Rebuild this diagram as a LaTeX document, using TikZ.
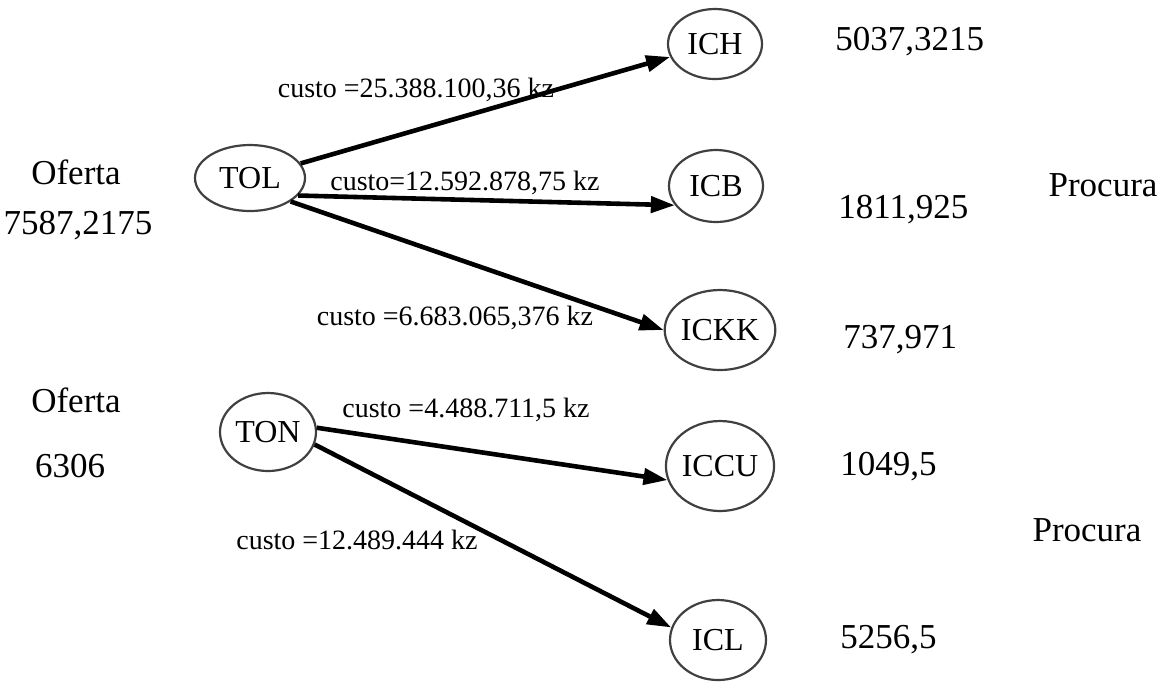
\documentclass[tikz,border=0pt]{standalone}
\usepackage{fontspec}
\setmainfont{Liberation Serif}
\usetikzlibrary{arrows.meta,shapes.geometric}

\tikzset{
  place/.style={ellipse, draw=black!75, line width=1.1pt, inner sep=0pt,
    font=\fontsize{16}{19}\selectfont},
  flow/.style={-{Triangle[length=12pt,width=8pt]}, line width=2.3pt},
  cost/.style={font=\fontsize{14}{16}\selectfont, inner sep=0pt},
  qty/.style={font=\fontsize{17.5}{20}\selectfont, inner sep=0pt},
}

\begin{document}
\begin{tikzpicture}[x=0.5pt,y=-0.5pt]
  \useasboundingbox (0,0) rectangle (1166,693);

  % origens
  \node[place, minimum width=55pt, minimum height=33pt] (tol) at (250,178) {TOL};
  \node[place, minimum width=48pt, minimum height=39pt] (ton) at (268,432) {TON};

  % destinos
  \node[place, minimum width=47pt, minimum height=35pt] (ich) at (715,44) {ICH};
  \node[place, minimum width=47pt, minimum height=36pt] (icb) at (716,186) {ICB};
  \node[place, minimum width=48pt, minimum height=40pt] (ickk) at (720,330) {ICKK};
  \node[place, minimum width=50pt, minimum height=45pt] (iccu) at (720,466) {ICCU};
  \node[place, minimum width=48pt, minimum height=40pt] (icl) at (718,640) {ICL};

  % oferta
  \node[qty] (of1) at (76,172) {Oferta};
  \node[qty] (s1) at (78,226) {7587,2175};
  \node[qty] (of2) at (76,400) {Oferta};
  \node[qty] (s2) at (70,466) {6306};

  % procura
  \node[qty, anchor=west] (d1) at (835,42) {5037,3215};
  \node[qty, anchor=west] (d2) at (838,210) {1811,925};
  \node[qty, anchor=west] (d3) at (843,340) {737,971};
  \node[qty, anchor=west] (d4) at (840,467) {1049,5};
  \node[qty, anchor=west] (d5) at (840,640) {5256,5};
  \node[qty] (pr1) at (1103,185) {Procura};
  \node[qty] (pr2) at (1087,530) {Procura};

  % rotas
  \draw[flow] (tol) -- (ich);
  \draw[flow] (tol.-20) -- (icb.205);
  \draw[flow] (tol.-30) -- (ickk.180);
  \draw[flow] (ton.5) -- (iccu.195);
  \draw[flow] (ton.-15) -- (icl.165);

  % custos
  \node[cost] (c1) at (416,90) {custo =25.388.100,36 kz};
  \node[cost] (c2) at (465,183) {custo=12.592.878,75 kz};
  \node[cost] (c3) at (455,318) {custo =6.683.065,376 kz};
  \node[cost] (c4) at (466,410) {custo =4.488.711,5 kz};
  \node[cost] (c5) at (357,540) {custo =12.489.444 kz};
\end{tikzpicture}
\end{document}
